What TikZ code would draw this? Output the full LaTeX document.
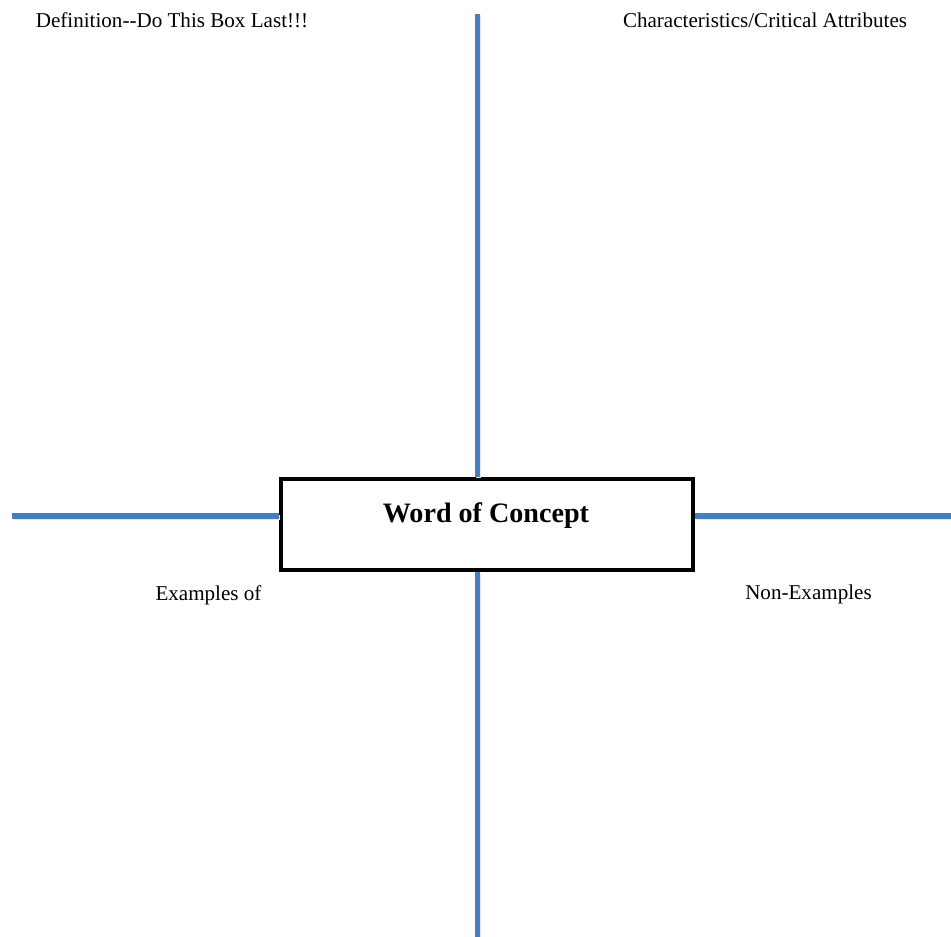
\documentclass[tikz,border=0pt]{standalone}
\usepackage{fontspec}
\setmainfont{Liberation Serif}
\usepackage{tikz}
\usetikzlibrary{positioning,calc}
\definecolor{axisblue}{RGB}{70,126,192}
\tikzset{
	axisline/.style={draw=axisblue,line width=2.85pt,preaction={draw=black!10,line width=2.85pt,transform canvas={shift={(0.03cm,-0.03cm)}}}},
	cornertext/.style={font=\fontsize{12}{14}\selectfont,inner sep=0pt}
}

\begin{document}
\begin{tikzpicture}
		
		\useasboundingbox (0,0) rectangle (19.02,-18.74);
		
		% word box in the middle
		\node[draw,line width=2.3pt,minimum width=8.24cm,minimum height=1.82cm,fill=white] (W) at (9.74,-10.49){};
		\node[font=\fontsize{16}{18}\selectfont\bfseries,inner sep=0pt] (T) at (9.72,-10.32){Word of Concept};
		
		% free ends of the four arms
		\coordinate (N) at (9.54,-0.28);
		\coordinate (S) at (9.54,-18.74);
		\coordinate (L) at (0.24,-10.32);
		\coordinate (R) at (19.02,-10.32);
		
		\draw [axisline] (N) -- (N |- W.north);
		\draw [axisline] (W.south -| S) -- (S);
		\draw [axisline] (L) -- (L -| W.west);
		\draw [axisline] (R -| W.east) -- (R);
		
		% quadrant titles
		\node[cornertext] (D) at (3.44,-0.40){Definition-{}-Do This Box Last!!!};
		\node[cornertext] (C) at (15.30,-0.40){Characteristics/Critical Attributes};
		\node[cornertext] (E) at (4.17,-11.90){Examples of};
		\node[cornertext] (X) at (16.17,-11.88){Non-Examples};
		
		\end{tikzpicture}
\end{document}
